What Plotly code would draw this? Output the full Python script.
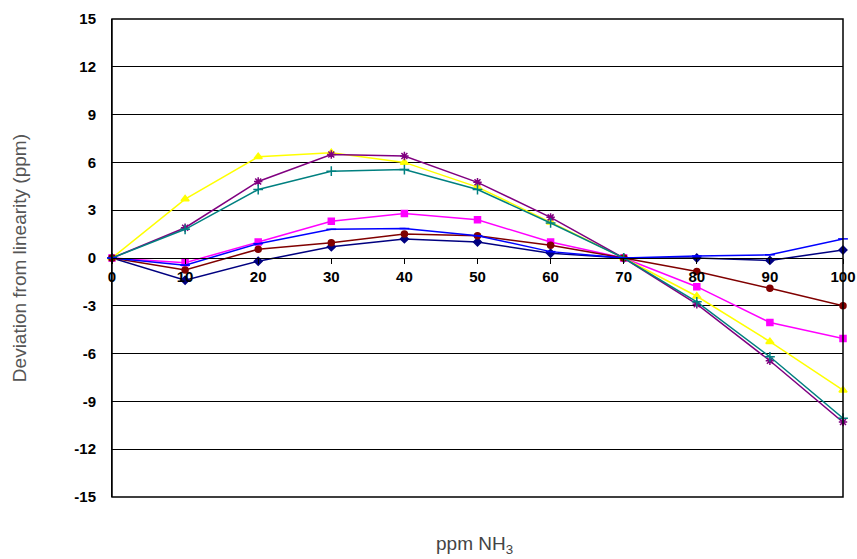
import plotly.graph_objects as go

x_ppm = [0, 10, 20, 30, 40, 50, 60, 70, 80, 90, 100]

navy_vals    = [0, -1.4, -0.2, 0.7, 1.2, 1.0, 0.3, 0, 0.0, -0.15, 0.5]
magenta_vals = [0, -0.3, 1.0, 2.3, 2.8, 2.4, 1.0, 0, -1.8, -4.05, -5.05]
yellow_vals  = [0, 3.7, 6.35, 6.6, 6.0, 4.45, 2.25, 0, -2.4, -5.25, -8.3]
purple_vals  = [0, 1.9, 4.8, 6.5, 6.4, 4.75, 2.55, 0, -2.9, -6.45, -10.3]
darkred_vals = [0, -0.75, 0.55, 0.95, 1.5, 1.4, 0.8, 0, -0.85, -1.9, -3.0]
teal_vals    = [0, 1.8, 4.3, 5.45, 5.55, 4.3, 2.2, 0, -2.75, -6.2, -10.05]
blue_vals    = [0, -0.45, 0.9, 1.8, 1.85, 1.4, 0.4, 0, 0.13, 0.2, 1.2]

y_ticks = [-15, -12, -9, -6, -3, 0, 3, 6, 9, 12, 15]
x_ticks = [0, 10, 20, 30, 40, 50, 60, 70, 80, 90, 100]

series = [
    ("Series 1", navy_vals, "#000080", "diamond", 6),
    ("Series 2", magenta_vals, "#FF00FF", "square", 6),
    ("Series 3", yellow_vals, "#FFFF00", "triangle-up", 7),
    ("Series 5", purple_vals, "#800080", "asterisk-open", 7),
    ("Series 6", darkred_vals, "#800000", "circle", 6),
    ("Series 7", teal_vals, "#008080", "cross-thin-open", 7),
    ("Series 8", blue_vals, "#0000FF", "line-ew-open", 7),
]

fig = go.Figure()
for name, vals, color, sym, size in series:
    fig.add_trace(go.Scatter(
        x=x_ppm, y=vals, name=name, mode="lines+markers",
        line=dict(color=color, width=1.5),
        marker=dict(color=color, symbol=sym, size=size,
                    line=dict(color=color, width=1.5)),
        showlegend=False, cliponaxis=False,
    ))

fig.update_layout(
    width=857, height=559,
    margin=dict(l=112, r=14, t=19, b=62, autoexpand=False),
    paper_bgcolor="white", plot_bgcolor="white",
    font=dict(family="Liberation Sans, Arial, sans-serif", color="black"),
    xaxis=dict(
        range=[0, 100], tickvals=x_ticks,
        ticktext=[f"<b>{v}</b>" for v in x_ticks],
        tickfont=dict(size=15, color="black"),
        anchor="free", position=0.5, automargin=False,
        ticklabeloverflow="allow",
        showgrid=False, zeroline=False,
        showline=True, linecolor="black", linewidth=1,
        ticks="outside", ticklen=5, tickcolor="black",
    ),
    yaxis=dict(
        range=[-15, 15], tickvals=y_ticks,
        ticktext=[f"<b>{v}</b>" for v in y_ticks],
        tickfont=dict(size=15, color="black"),
        showgrid=True, gridcolor="black", gridwidth=1,
        zeroline=False, automargin=False,
        showline=True, linecolor="black", linewidth=1,
        ticks="", ticklabelstandoff=12,
    ),
    shapes=[dict(type="rect", xref="paper", yref="paper",
                 x0=0, x1=1, y0=0, y1=1,
                 line=dict(color="black", width=1.5), layer="above")],
    annotations=[
        dict(text="ppm NH<sub>3</sub>", xref="paper", yref="paper",
             x=0.496, y=-0.1, xanchor="center", yanchor="middle",
             showarrow=False, font=dict(size=19, color="#444444")),
        dict(text="Deviation from linearity (ppm)", xref="paper", yref="paper",
             x=-0.127, y=0.5, xanchor="center", yanchor="middle",
             showarrow=False, textangle=-90,
             font=dict(size=19, color="#555555")),
    ],
)

fig.write_html(
    "out.html",
    config={"displayModeBar": False},
    post_script="document.body.style.margin='0';document.body.style.overflow='hidden';",
)
